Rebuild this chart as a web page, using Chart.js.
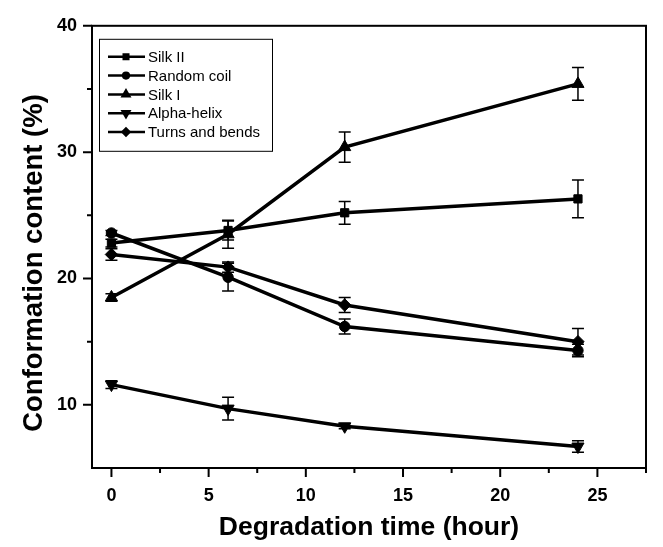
<!DOCTYPE html>
<html>
<head>
<meta charset="utf-8">
<script src="https://cdn.jsdelivr.net/npm/chart.js@4.4.0/dist/chart.umd.min.js"></script>
<style>
    html, body { margin: 0; padding: 0; background: #fff; }
</style>
</head>
<body>
<canvas id="grafico" width="663" height="547"></canvas>
<script>
// Dados (tempo em horas, conteúdo em %)
const horas = [0, 6, 12, 24];
const nomes = ['Silk II', 'Random coil', 'Silk I', 'Alpha-helix', 'Turns and bends'];

const silkII = [22.8, 23.8, 25.2, 26.3];
const silkIIErro = [0.3, 0.75, 0.9, 1.5];
const randomCoil = [23.6, 20.1, 16.2, 14.3];
const randomCoilErro = [0.2, 1.1, 0.6, 0.5];
const silkI = [18.5, 23.5, 30.4, 35.4];
const silkIErro = [0.3, 1.1, 1.2, 1.3];
const alphaHelix = [11.6, 9.7, 8.3, 6.7];
const alphaHelixErro = [0.3, 0.9, 0.2, 0.45];
const turns = [21.9, 20.9, 17.9, 15.0];
const turnsErro = [0.45, 0.4, 0.6, 1.05];

// Marcas dos eixos
const xMaiores = [0, 5, 10, 15, 20, 25];
const xMenores = [2.5, 7.5, 12.5, 17.5, 22.5, 27.5];
const yMaiores = [10, 20, 30, 40];
const yMenores = [15, 25, 35];

const fonte = "'Liberation Sans', Arial, sans-serif";
const tituloY = 'Conformation content (%)';

function montarSerie(nome, valores, erros, estilo, raio, rotacao) {
    return {
        label: nome,
        data: horas.map((h, i) => ({ x: h, y: valores[i] })),
        erros: erros,
        borderColor: '#000',
        backgroundColor: '#000',
        borderWidth: 3.5,
        pointStyle: estilo,
        pointRadius: raio,
        pointRotation: rotacao || 0,
        pointBorderWidth: 1,
        tension: 0
    };
}

const series = [
    montarSerie(nomes[0], silkII, silkIIErro, 'rect', 5.8),
    montarSerie(nomes[1], randomCoil, randomCoilErro, 'circle', 5.2),
    montarSerie(nomes[2], silkI, silkIErro, 'triangle', 7),
    montarSerie(nomes[3], alphaHelix, alphaHelixErro, 'triangle', 7, 180),
    montarSerie(nomes[4], turns, turnsErro, 'rectRot', 6.2)
];

// Barras de erro, desenhadas antes das linhas
const barrasErro = {
    id: 'barrasErro',
    beforeDatasetsDraw(chart) {
        const ctx = chart.ctx;
        const sx = chart.scales.x, sy = chart.scales.y;
        ctx.save();
        ctx.strokeStyle = '#000';
        ctx.lineWidth = 1.5;
        chart.data.datasets.forEach(ds => {
            ds.data.forEach((p, i) => {
                const e = ds.erros[i];
                const px = sx.getPixelForValue(p.x);
                const y1 = sy.getPixelForValue(p.y + e);
                const y2 = sy.getPixelForValue(p.y - e);
                ctx.beginPath();
                ctx.moveTo(px, y1); ctx.lineTo(px, y2);
                ctx.moveTo(px - 6, y1); ctx.lineTo(px + 6, y1);
                ctx.moveTo(px - 6, y2); ctx.lineTo(px + 6, y2);
                ctx.stroke();
            });
        });
        ctx.restore();
    }
};

// Moldura, marcas dos eixos (para fora) e título do eixo y
const moldura = {
    id: 'moldura',
    afterDraw(chart) {
        const ctx = chart.ctx;
        const a = chart.chartArea;
        const sx = chart.scales.x, sy = chart.scales.y;
        ctx.save();
        ctx.strokeStyle = '#000';
        ctx.lineWidth = 2;
        ctx.strokeRect(a.left, a.top, a.right - a.left, a.bottom - a.top);
        ctx.beginPath();
        xMaiores.forEach(v => { const p = sx.getPixelForValue(v); ctx.moveTo(p, a.bottom); ctx.lineTo(p, a.bottom + 9); });
        xMenores.forEach(v => { const p = sx.getPixelForValue(v); ctx.moveTo(p, a.bottom); ctx.lineTo(p, a.bottom + 5); });
        yMaiores.forEach(v => { const p = sy.getPixelForValue(v); ctx.moveTo(a.left, p); ctx.lineTo(a.left - 9, p); });
        yMenores.forEach(v => { const p = sy.getPixelForValue(v); ctx.moveTo(a.left, p); ctx.lineTo(a.left - 5, p); });
        ctx.stroke();

        // título do eixo y, um pouco abaixo do centro como no original
        ctx.translate(34, 263);
        ctx.rotate(-Math.PI / 2);
        ctx.fillStyle = '#000';
        ctx.font = 'bold 27.5px ' + fonte;
        ctx.textAlign = 'center';
        ctx.textBaseline = 'middle';
        ctx.fillText(tituloY, 0, 0);
        ctx.restore();
    }
};

// Legenda com caixa dentro da área do gráfico
const legendaCaixa = {
    id: 'legendaCaixa',
    afterDraw(chart) {
        const ctx = chart.ctx;
        const a = chart.chartArea;
        const esq = a.left + 7, topo = a.top + 13, larg = 173, alt = 112;
        ctx.save();
        ctx.fillStyle = '#fff';
        ctx.fillRect(esq, topo, larg, alt);
        ctx.strokeStyle = '#000';
        ctx.lineWidth = 1;
        ctx.strokeRect(esq + 0.5, topo + 0.5, larg, alt);
        ctx.font = '15px ' + fonte;
        ctx.textBaseline = 'middle';
        chart.data.datasets.forEach((ds, i) => {
            const y = topo + 18 + i * 18.8;
            ctx.strokeStyle = '#000';
            ctx.lineWidth = 2.5;
            ctx.beginPath();
            ctx.moveTo(esq + 9, y); ctx.lineTo(esq + 46, y);
            ctx.stroke();
            ctx.fillStyle = '#000';
            Chart.helpers.drawPoint(ctx, {
                pointStyle: ds.pointStyle,
                rotation: ds.pointRotation,
                radius: ds.pointRadius * 0.55,
                borderWidth: 1
            }, esq + 27, y);
            ctx.fillStyle = '#000';
            ctx.fillText(ds.label, esq + 49, y + 1);
        });
        ctx.restore();
    }
};

new Chart(document.getElementById('grafico'), {
    type: 'line',
    data: { datasets: series },
    options: {
        responsive: false,
        devicePixelRatio: 1,
        animation: false,
        layout: { padding: { top: 22, right: 17, left: 0, bottom: 0 } },
        plugins: { legend: { display: false }, tooltip: { enabled: false } },
        scales: {
            x: {
                type: 'linear',
                min: -1,
                max: 27.5,
                afterBuildTicks: s => { s.ticks = xMaiores.map(v => ({ value: v })); },
                afterFit: s => { s.height = 79; },
                grid: { display: false, drawTicks: false },
                border: { display: false },
                ticks: { color: '#000', padding: 17, font: { family: fonte, size: 18, weight: 'bold' } },
                title: {
                    display: true,
                    text: 'Degradation time (hour)',
                    color: '#000',
                    padding: { top: 0, bottom: 3 },
                    font: { family: fonte, size: 26.5, weight: 'bold' }
                }
            },
            y: {
                min: 5,
                max: 40,
                afterBuildTicks: s => { s.ticks = yMaiores.map(v => ({ value: v })); },
                afterFit: s => { s.width = 92; },
                grid: { display: false, drawTicks: false },
                border: { display: false },
                ticks: { color: '#000', padding: 15, font: { family: fonte, size: 18, weight: 'bold' } },
                title: { display: false }
            }
        }
    },
    plugins: [barrasErro, moldura, legendaCaixa]
});
</script>
</body>
</html>
